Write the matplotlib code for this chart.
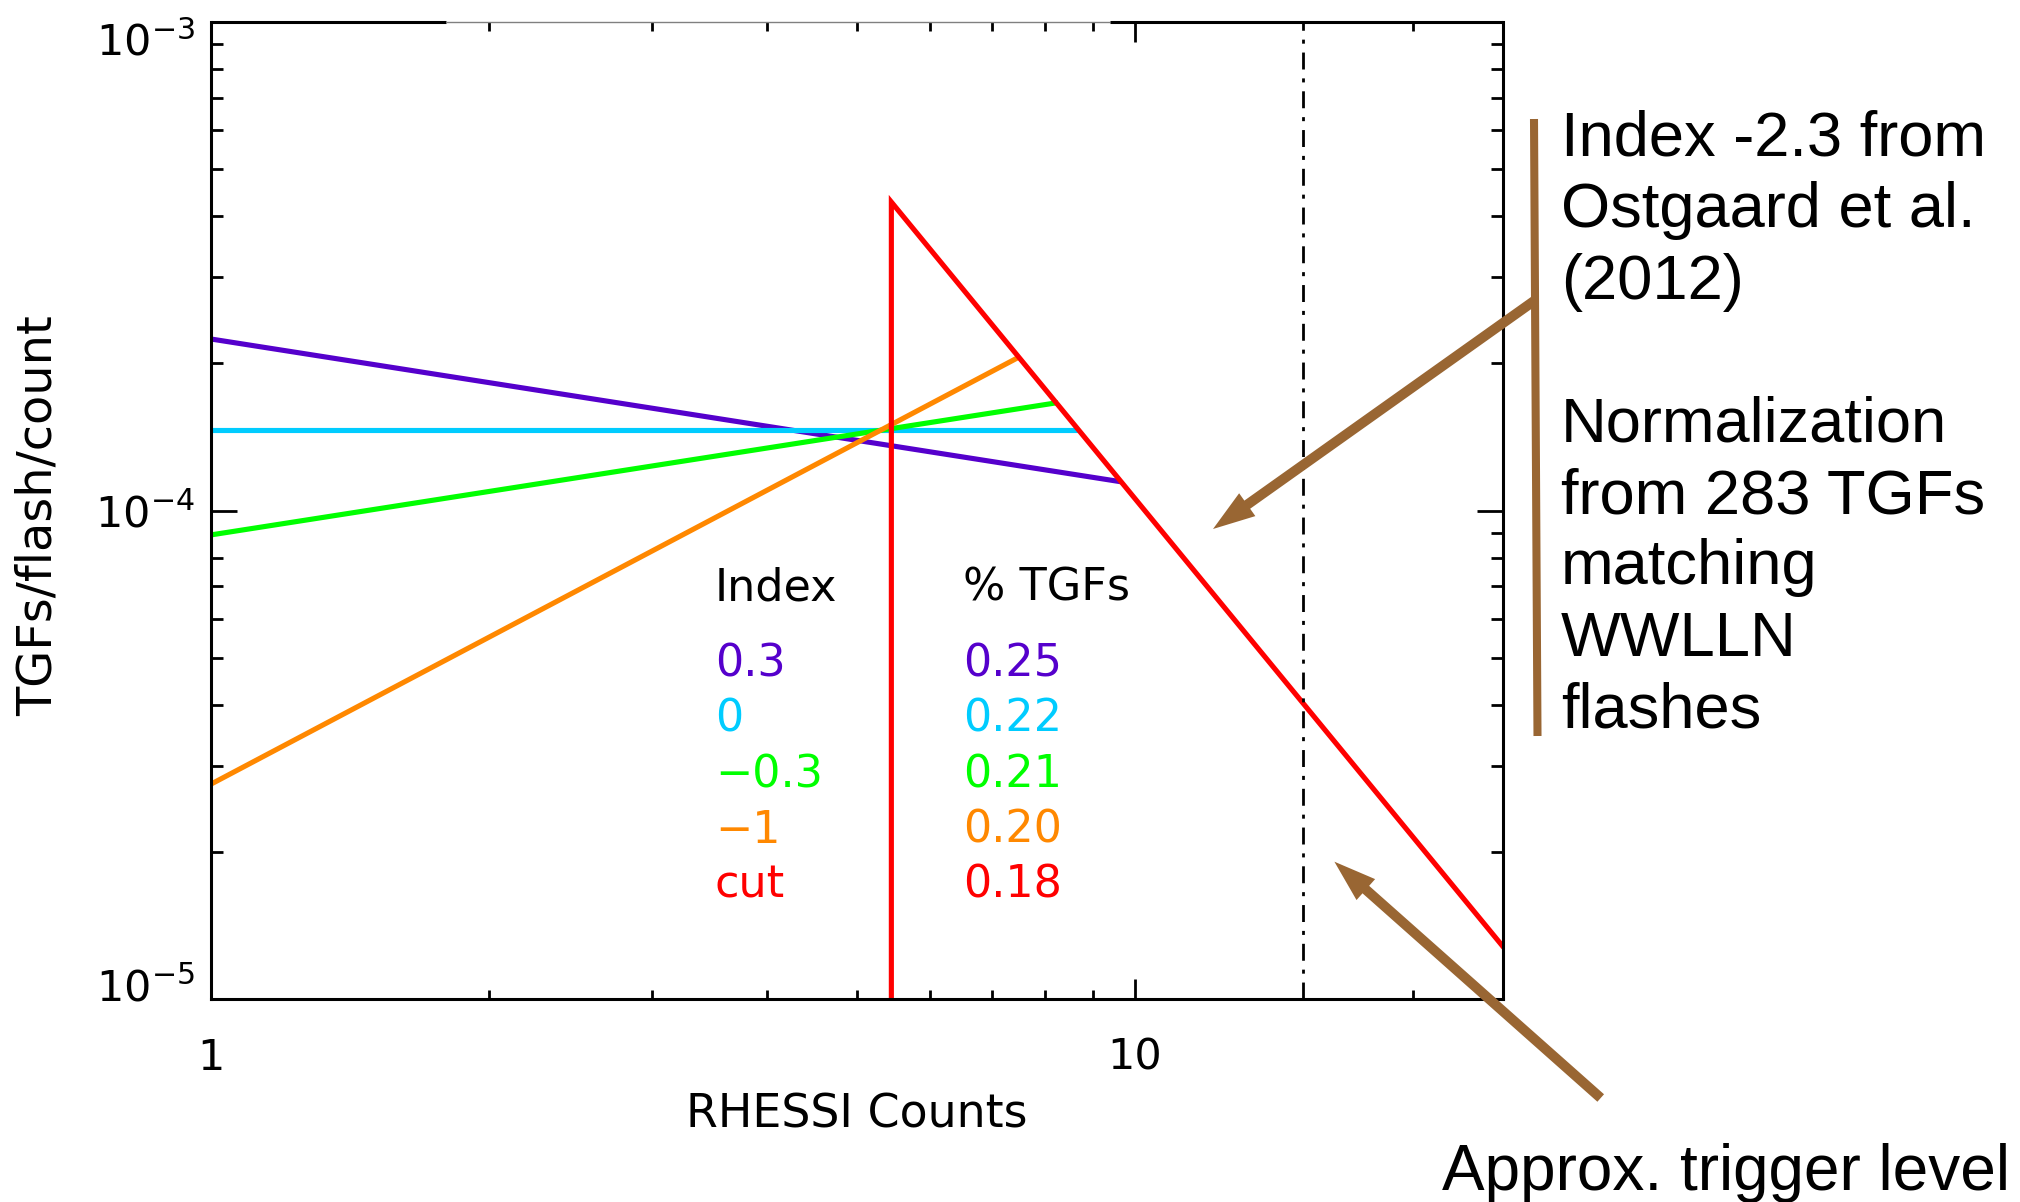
import numpy as np
import matplotlib
matplotlib.use('Agg')
from matplotlib import pyplot as plt
from matplotlib import transforms
from matplotlib.patches import FancyArrow
from matplotlib.lines import Line2D
from matplotlib.ticker import NullFormatter

# power-law curves (log-log straight lines)
index_labels = ['0.3', '0', '\u22120.3', '\u22121', 'cut']
pct_tgfs = ['0.25', '0.22', '0.21', '0.20', '0.18']
colors = ['#5500cc', '#00ccff', '#00ff00', '#ff8800', '#ff0000']
x_pts = [[1, 9.6], [1, 8.6], [1, 8.2], [1, 7.45], [5.45, 5.45, 25]]
y_pts = [[2.245e-4, 1.147e-4], [1.462e-4, 1.462e-4], [8.91e-5, 1.66e-4],
         [2.75e-5, 2.05e-4], [1e-5, 4.28e-4, 1.28e-5]]
trigger_level = 15.2

x_ticks = [1, 10]
x_ticklabels = ['1', '10']
y_ticks = [1e-5, 1e-4, 1e-3]
y_ticklabels = [r'$10^{-5}$', r'$10^{-4}$', r'$10^{-3}$']

note_lines = ['Index -2.3 from', 'Ostgaard et al.', '(2012)', '',
              'Normalization', 'from 283 TGFs', 'matching', 'WWLLN', 'flashes']
trigger_note = 'Approx. trigger level'
brown = '#996633'

W, H = 2020, 1202
fig = plt.figure(figsize=(W / 100, H / 100), dpi=100, facecolor='white')
ax = fig.add_axes([210.5 / W, 1 - 999 / H, 1292.5 / W, 977 / H])

for xs, ys, c in zip(x_pts, y_pts, colors):
    ax.plot(xs, ys, color=c, lw=3.7, solid_joinstyle='miter')

ax.axvline(trigger_level, color='k', lw=2, linestyle=(0, (6.1, 3.2, 1.45, 3.2)))

ax.set_xscale('log')
ax.set_yscale('log')
ax.set_xlim(1, 25)
ax.set_ylim(1e-5, 1e-3)
ax.set_xticks(x_ticks)
ax.set_xticklabels(x_ticklabels)
ax.set_yticks(y_ticks)
ax.set_yticklabels(y_ticklabels)
ax.xaxis.set_minor_formatter(NullFormatter())
ax.yaxis.set_minor_formatter(NullFormatter())

ax.tick_params(which='both', direction='in', top=True, right=True, width=2,
               labelsize=31, colors='k')
ax.xaxis.set_tick_params(which='major', length=14.4, pad=27)
ax.xaxis.set_tick_params(which='minor', length=6.5)
ax.yaxis.set_tick_params(which='major', length=18.7, pad=11)
ax.yaxis.set_tick_params(which='minor', length=8.6)

for s in ['left', 'right', 'bottom']:
    ax.spines[s].set_linewidth(2.2)
ax.spines['top'].set_visible(False)
# top frame: thick / thin gray / thick, like in the source image
ax.plot([0, 0.182], [1, 1], transform=ax.transAxes, color='k', lw=2.2,
        clip_on=False, solid_capstyle='butt')
ax.plot([0.182, 0.696], [1, 1], transform=ax.transAxes, color='#808080', lw=1,
        clip_on=False, solid_capstyle='butt')
ax.plot([0.696, 1], [1, 1], transform=ax.transAxes, color='k', lw=2.2,
        clip_on=False, solid_capstyle='butt')

# y labels at the ends are nudged inward
yt = ax.yaxis.get_major_ticks()
yt[-1].label1.set_transform(yt[-1].label1.get_transform() +
                            transforms.ScaledTranslation(0, -0.17, fig.dpi_scale_trans))
yt[0].label1.set_transform(yt[0].label1.get_transform() +
                           transforms.ScaledTranslation(0, 0.14, fig.dpi_scale_trans))

ax.set_xlabel('RHESSI Counts', fontsize=33, va='top')
ax.xaxis.set_label_coords(0.5, -0.0962)
ax.set_ylabel('TGFs/flash/count', fontsize=34.5)
ax.yaxis.set_label_coords(-0.115, 0.495)

# legend table inside the plot
ax.text(0.3903, 0.408, 'Index', transform=ax.transAxes, fontsize=32, va='baseline')
ax.text(0.5822, 0.408, '% TGFs', transform=ax.transAxes, fontsize=32, va='baseline')
row_y = [0.3296, 0.2733, 0.2165, 0.1597, 0.1034]
for lab, pct, c, yy in zip(index_labels, pct_tgfs, colors, row_y):
    ax.text(0.3903, yy, lab, transform=ax.transAxes, fontsize=32, color=c, va='baseline')
    ax.text(0.5822, yy, pct, transform=ax.transAxes, fontsize=32, color=c, va='baseline')

# annotations on the right (figure pixel positions -> inches)
def px(x, y):
    return x / 100, (H - y) / 100

for i, line in enumerate(note_lines):
    x0, y0 = px(1561, 156 + 71.4 * i)
    fig.text(x0, y0, line, transform=fig.dpi_scale_trans, fontsize=45.5,
             family='Liberation Sans', va='baseline', ha='left')
x0, y0 = px(1442, 1190)
fig.text(x0, y0, trigger_note, transform=fig.dpi_scale_trans, fontsize=46,
         family='Liberation Sans', va='baseline', ha='left')

bx0, by0 = px(1534, 119)
bx1, by1 = px(1537.5, 736)
fig.add_artist(Line2D([bx0, bx1], [by0, by1], lw=5.8, color=brown,
                      solid_capstyle='butt', transform=fig.dpi_scale_trans))

for (tx, ty), (hx, hy) in [((1534, 301), (1213, 529)), ((1600.7, 1098), (1334.4, 861.7))]:
    x0, y0 = px(tx, ty)
    x1, y1 = px(hx, hy)
    fig.add_artist(FancyArrow(x0, y0, x1 - x0, y1 - y0, width=0.10, head_width=0.28,
                              head_length=0.42, length_includes_head=True,
                              color=brown, lw=0, transform=fig.dpi_scale_trans))

fig.savefig('out.png', dpi=100, facecolor='white')
